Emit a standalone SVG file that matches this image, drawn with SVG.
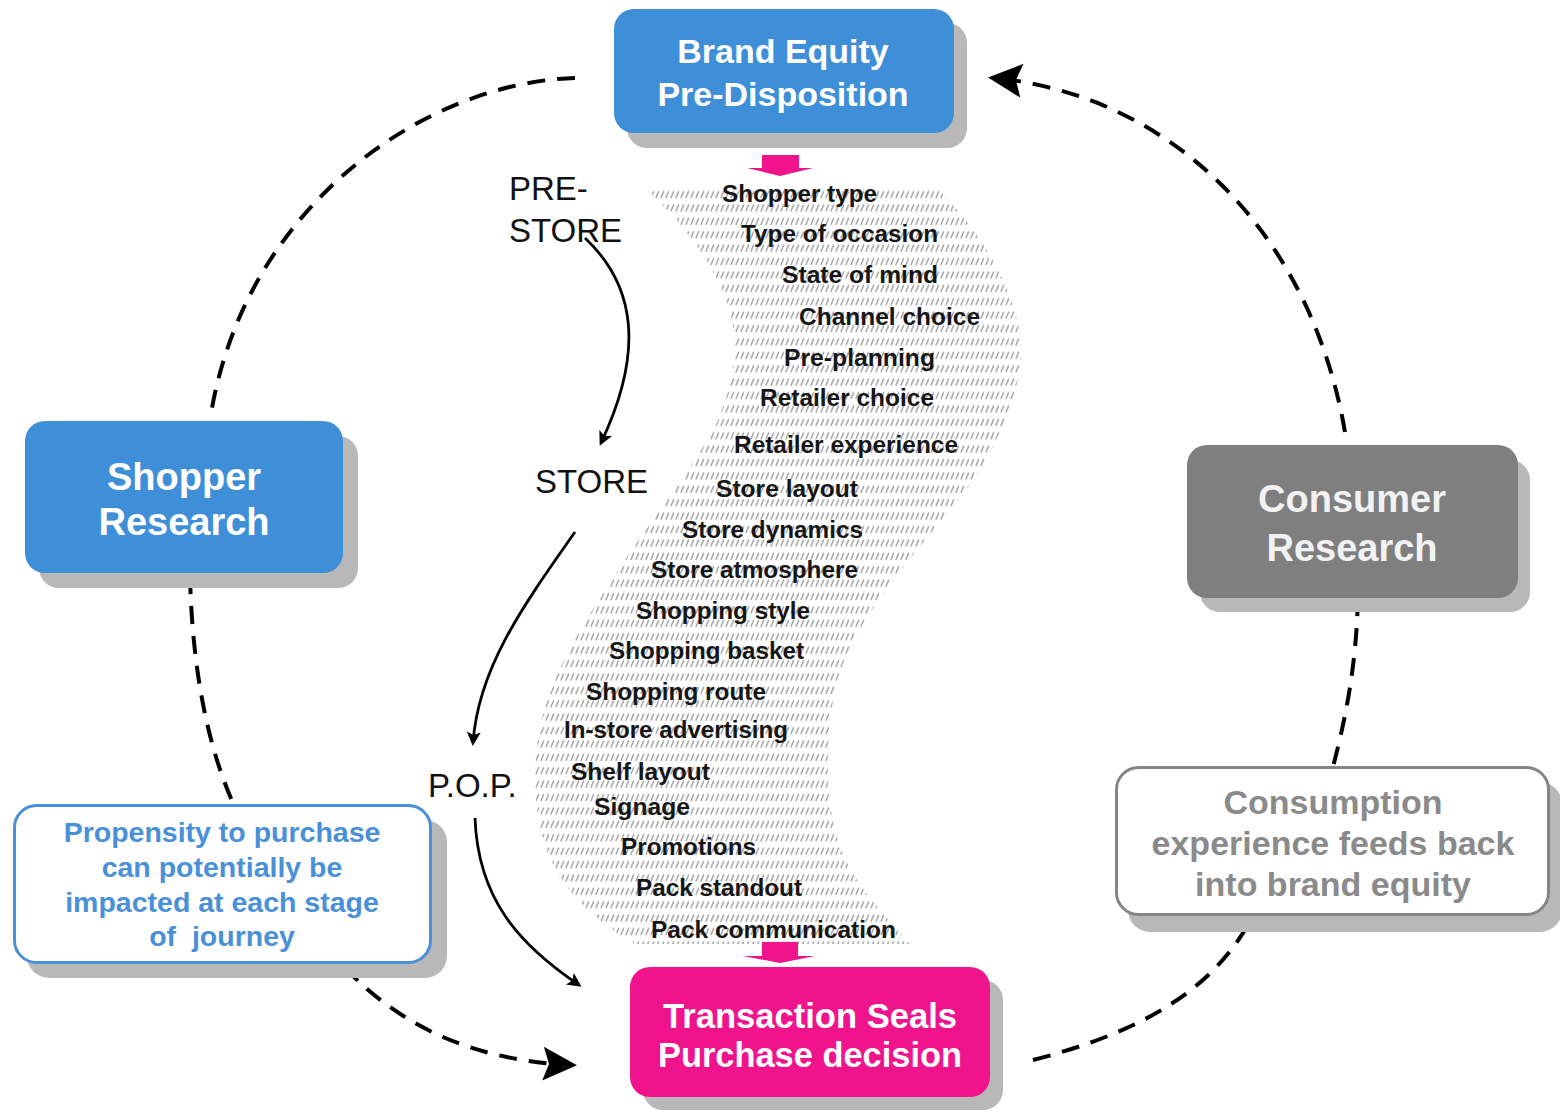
<svg xmlns="http://www.w3.org/2000/svg" width="1560" height="1112" viewBox="0 0 1560 1112">
<style>
.shadow{fill:#b8b8b8}
.title{font-family:"Liberation Sans",Arial,sans-serif;font-weight:bold;text-anchor:middle}
.white{fill:#fff}
.light{fill:#f2f2f2}
.grey{fill:#8a8a8a}
.blue{fill:#4a90d9}
.item{font-family:"Liberation Sans",Arial,sans-serif;font-weight:bold;font-size:23px;fill:#161616}
.stage{font-family:"Liberation Sans",Arial,sans-serif;font-size:33px;fill:#111}
.dash{fill:none;stroke:#000;stroke-width:4;stroke-dasharray:18 12}
.thin{fill:none;stroke:#000;stroke-width:2.8}
.pink{fill:#f0148c}
</style>
<defs>
<pattern id="hatch" width="5" height="13.4" patternUnits="userSpaceOnUse">
<line x1="0.8" y1="10.5" x2="3.8" y2="3.5" stroke="#a6a6a6" stroke-width="1.5"/>
</pattern>
<marker id="bigArrow" markerUnits="userSpaceOnUse" markerWidth="44" markerHeight="44" viewBox="-32 -22 44 44" refX="0" refY="0" orient="auto">
<path d="M6,0 L-28,-17 L-22,0 L-28,17 Z" fill="#000"/>
</marker>
<marker id="smallArrow" markerUnits="userSpaceOnUse" markerWidth="24" markerHeight="24" viewBox="-12 -12 24 24" refX="0" refY="0" orient="auto">
<path d="M3,0 L-11,-7 L-8,0 L-11,7 Z" fill="#000"/>
</marker>
</defs>

<g id="hatch-band">
<path d="M643,186 C680,220 712,260 728,305 C740,345 735,380 718,420 C700,460 650,520 605,590 C560,660 535,710 535,780 C536,850 560,900 635,944 L910,944 C880,910 850,880 838,840 C825,800 825,740 835,690 C848,630 900,570 950,510 C985,470 1010,420 1020,370 C1028,310 990,240 935,186 Z" fill="url(#hatch)"/>
</g>

<g id="items">
<text class="item" x="722" y="202" textLength="155" lengthAdjust="spacingAndGlyphs">Shopper type</text>
<text class="item" x="741" y="242" textLength="197" lengthAdjust="spacingAndGlyphs">Type of occasion</text>
<text class="item" x="782" y="283" textLength="156" lengthAdjust="spacingAndGlyphs">State of mind</text>
<text class="item" x="799" y="325" textLength="181" lengthAdjust="spacingAndGlyphs">Channel choice</text>
<text class="item" x="784" y="366" textLength="151" lengthAdjust="spacingAndGlyphs">Pre-planning</text>
<text class="item" x="760" y="406" textLength="174" lengthAdjust="spacingAndGlyphs">Retailer choice</text>
<text class="item" x="734" y="453" textLength="224" lengthAdjust="spacingAndGlyphs">Retailer experience</text>
<text class="item" x="716" y="497" textLength="142" lengthAdjust="spacingAndGlyphs">Store layout</text>
<text class="item" x="682" y="538" textLength="181" lengthAdjust="spacingAndGlyphs">Store dynamics</text>
<text class="item" x="651" y="578" textLength="207" lengthAdjust="spacingAndGlyphs">Store atmosphere</text>
<text class="item" x="636" y="619" textLength="174" lengthAdjust="spacingAndGlyphs">Shopping style</text>
<text class="item" x="609" y="659" textLength="195" lengthAdjust="spacingAndGlyphs">Shopping basket</text>
<text class="item" x="586" y="700" textLength="180" lengthAdjust="spacingAndGlyphs">Shopping route</text>
<text class="item" x="564" y="738" textLength="224" lengthAdjust="spacingAndGlyphs">In-store advertising</text>
<text class="item" x="571" y="780" textLength="139" lengthAdjust="spacingAndGlyphs">Shelf layout</text>
<text class="item" x="594" y="815" textLength="96" lengthAdjust="spacingAndGlyphs">Signage</text>
<text class="item" x="621" y="855" textLength="135" lengthAdjust="spacingAndGlyphs">Promotions</text>
<text class="item" x="636" y="896" textLength="166" lengthAdjust="spacingAndGlyphs">Pack standout</text>
<text class="item" x="651" y="938" textLength="245" lengthAdjust="spacingAndGlyphs">Pack communication</text>
</g>

<g id="stages">
<text class="stage" x="509" y="200">PRE-</text>
<text class="stage" x="509" y="242">STORE</text>
<text class="stage" x="535" y="493">STORE</text>
<text class="stage" x="428" y="797">P.O.P.</text>
</g>

<g id="connectors">
<path class="dash" d="M575,78 C430,82 250,200 212,408"/>
<path class="dash" d="M190,576 C192,660 205,740 233,803"/>
<path class="dash" d="M345,968 C400,1025 470,1060 571,1065" marker-end="url(#bigArrow)"/>
<path class="dash" d="M1033,1060 C1150,1030 1215,985 1250,921"/>
<path class="dash" d="M1358,598 C1356,670 1345,720 1333,767"/>
<path class="dash" d="M1345,432 C1310,230 1170,95 994,78" marker-end="url(#bigArrow)"/>
<path class="thin" d="M585,238 C635,285 645,350 601,443" marker-end="url(#smallArrow)"/>
<path class="thin" d="M575,532 C520,610 478,670 473,743" marker-end="url(#smallArrow)"/>
<path class="thin" d="M475,818 C478,900 520,945 579,985" marker-end="url(#smallArrow)"/>
<path class="pink" d="M762,155 L799,155 L799,168 L813,168 L780,176 L747,168 L762,168 Z"/>
<path class="pink" d="M762,942 L798,942 L798,956 L815,956 L780,963 L743,956 L762,956 Z"/>
</g>

<g id="brand-equity">
<rect class="shadow" x="627" y="23" width="340" height="125" rx="20"/>
<rect x="614" y="9" width="340" height="124" rx="20" fill="#3e8ed8"/>
<text class="title white" x="783" y="63" font-size="34">Brand Equity</text>
<text class="title white" x="783" y="106" font-size="34">Pre-Disposition</text>
</g>

<g id="shopper-research">
<rect class="shadow" x="39" y="436" width="319" height="152" rx="20"/>
<rect x="25" y="421" width="318" height="152" rx="20" fill="#3e8ed8"/>
<text class="title white" x="184" y="490" font-size="38">Shopper</text>
<text class="title white" x="184" y="535" font-size="38">Research</text>
</g>

<g id="consumer-research">
<rect class="shadow" x="1200" y="460" width="330" height="152" rx="20"/>
<rect x="1187" y="445" width="331" height="153" rx="20" fill="#7f7f7f"/>
<text class="title light" x="1352" y="512" font-size="38">Consumer</text>
<text class="title light" x="1352" y="561" font-size="38">Research</text>
</g>

<g id="consumption">
<rect class="shadow" x="1128" y="782" width="434" height="150" rx="22"/>
<rect x="1116.5" y="767.5" width="432" height="147" rx="22" fill="#fff" stroke="#858585" stroke-width="3"/>
<text class="title grey" x="1333" y="814" font-size="34">Consumption</text>
<text class="title grey" x="1333" y="855" font-size="34">experience feeds back</text>
<text class="title grey" x="1333" y="896" font-size="34">into brand equity</text>
</g>

<g id="propensity">
<rect class="shadow" x="27" y="820" width="420" height="158" rx="22"/>
<rect x="14.5" y="805.5" width="416" height="157" rx="22" fill="#fff" stroke="#4a90d9" stroke-width="3"/>
<text class="title blue" x="222" y="842" font-size="28.5">Propensity to purchase</text>
<text class="title blue" x="222" y="877" font-size="28.5">can potentially be</text>
<text class="title blue" x="222" y="912" font-size="28.5">impacted at each stage</text>
<text class="title blue" x="222" y="946" font-size="28.5" xml:space="preserve">of  journey</text>
</g>

<g id="transaction">
<rect class="shadow" x="643" y="980" width="360" height="130" rx="20"/>
<rect x="630" y="967" width="360" height="130" rx="20" fill="#f0148c"/>
<text class="title white" x="810" y="1028" font-size="35" textLength="294" lengthAdjust="spacingAndGlyphs">Transaction Seals</text>
<text class="title white" x="810" y="1067" font-size="35" textLength="304" lengthAdjust="spacingAndGlyphs">Purchase decision</text>
</g>
</svg>
